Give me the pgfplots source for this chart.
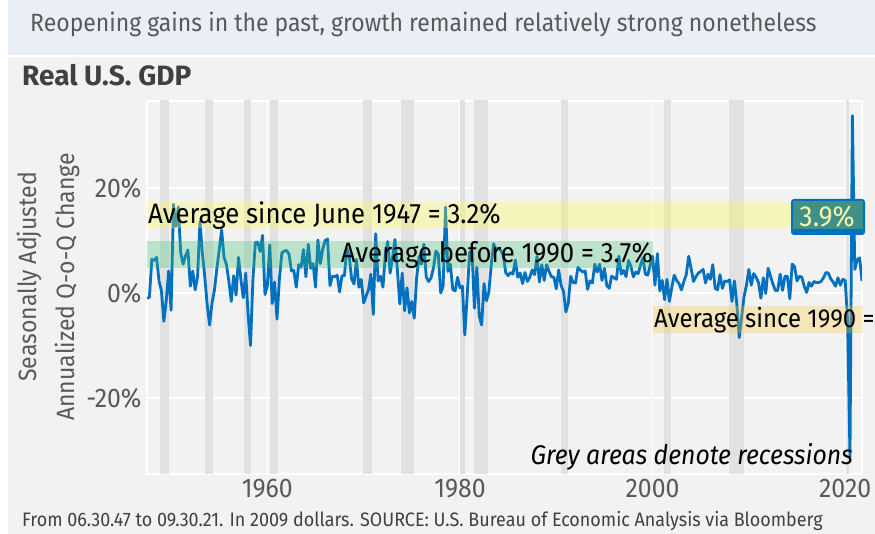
\documentclass[border=0pt]{standalone}
\usepackage{fontspec}
\setmainfont{Fira Sans}[FakeStretch=0.92]
\newfontfamily\widefira{Fira Sans}
\usepackage{pgfplots}
\pgfplotsset{compat=1.18}

\definecolor{panel}{HTML}{F2F2F2}
\definecolor{titlebg}{HTML}{E9EEF7}
\definecolor{recess}{HTML}{E1E1E1}
\definecolor{gdpblue}{HTML}{0070C0}
\definecolor{teal39}{HTML}{3E9088}
\definecolor{ticktext}{HTML}{595959}
\definecolor{darktext}{HTML}{404040}
\definecolor{bandyellow}{HTML}{FFFF3E}
\definecolor{bandgreen}{HTML}{41C073}
\definecolor{bandorange}{HTML}{FFC73E}
\definecolor{boxtext}{HTML}{F8F4A8}

\begin{document}
\begin{tikzpicture}[x=1pt,y=1pt]
\useasboundingbox (0,0) rectangle (875,534);
% frame
\fill[white] (0,0) rectangle (875,534);
\fill[titlebg] (8,479) rectangle (875,534);
\fill[panel] (8,0) rectangle (875,477);
\node[anchor=base west, text=ticktext, font=\fontsize{25}{29}\selectfont, inner sep=0] at (30,502)
  {Reopening gains in the past, growth remained relatively strong nonetheless};
\node[anchor=base west, text=darktext, font=\widefira\bfseries\fontsize{28}{32}\selectfont, inner sep=0] at (22,448)
  {Real U.S. GDP};
\node[anchor=base west, text=darktext, font=\fontsize{19.5}{23}\selectfont, inner sep=0] at (22,7)
  {From 06.30.47 to 09.30.21. In 2009 dollars. SOURCE: U.S. Bureau of Economic Analysis via Bloomberg};
\node[rotate=90, text=ticktext, font=\fontsize{25}{30}\selectfont, inner sep=0] at (29,257) {Seasonally Adjusted};
\node[rotate=90, text=ticktext, font=\fontsize{25}{30}\selectfont, inner sep=0] at (67,247) {Annualized Q-o-Q Change};

\begin{axis}[
    at={(147pt,60pt)}, anchor=south west,
    scale only axis, width=715pt, height=373pt,
    xmin=1947.5, xmax=2021.75, ymin=-34.5, ymax=36.6,
    axis background/.style={fill=panel},
    axis line style={white, line width=1.5pt},
    grid=major, grid style={white, line width=1.3pt},
    major tick length=0pt,
    xtick={1960,1980,2000,2020}, ytick={-20,0,20},
    /pgf/number format/1000 sep={},
    /pgf/number format/assume math mode=true,
    yticklabel={\pgfmathprintnumber{\tick}\%},
    ticklabel style={text=ticktext, font=\fontsize{27}{30}\selectfont},
    yticklabel style={xshift=-2pt},
    xticklabel style={yshift=-2pt},
]
% recessions
\addplot[fill=recess, draw=none] coordinates {(1948.9,-40)(1948.9,40)(1949.8,40)(1949.8,-40)};
\addplot[fill=recess, draw=none] coordinates {(1953.5,-40)(1953.5,40)(1954.4,40)(1954.4,-40)};
\addplot[fill=recess, draw=none] coordinates {(1957.6,-40)(1957.6,40)(1958.3,40)(1958.3,-40)};
\addplot[fill=recess, draw=none] coordinates {(1960.3,-40)(1960.3,40)(1961.1,40)(1961.1,-40)};
\addplot[fill=recess, draw=none] coordinates {(1969.9,-40)(1969.9,40)(1970.9,40)(1970.9,-40)};
\addplot[fill=recess, draw=none] coordinates {(1973.9,-40)(1973.9,40)(1975.2,40)(1975.2,-40)};
\addplot[fill=recess, draw=none] coordinates {(1980.0,-40)(1980.0,40)(1980.5,40)(1980.5,-40)};
\addplot[fill=recess, draw=none] coordinates {(1981.5,-40)(1981.5,40)(1982.9,40)(1982.9,-40)};
\addplot[fill=recess, draw=none] coordinates {(1990.5,-40)(1990.5,40)(1991.2,40)(1991.2,-40)};
\addplot[fill=recess, draw=none] coordinates {(2001.2,-40)(2001.2,40)(2001.9,40)(2001.9,-40)};
\addplot[fill=recess, draw=none] coordinates {(2007.9,-40)(2007.9,40)(2009.5,40)(2009.5,-40)};
\addplot[fill=recess, draw=none] coordinates {(2020.1,-40)(2020.1,40)(2020.4,40)(2020.4,-40)};
% real GDP growth, quarterly, annualized
\addplot[gdpblue, line width=2.8pt, line join=round] coordinates {
(1947.50,-1.0)(1947.75,-0.8)(1948.00,6.4)
(1948.25,6.2)(1948.50,6.8)(1948.75,2.3)(1949.00,0.4)
(1949.25,-5.4)(1949.50,-1.4)(1949.75,4.2)(1950.00,-3.3)
(1950.25,16.9)(1950.50,12.7)(1950.75,16.4)(1951.00,7.7)
(1951.25,5.5)(1951.50,7.1)(1951.75,8.2)(1952.00,1.3)
(1952.25,4.2)(1952.50,0.6)(1952.75,3.1)(1953.00,13.6)
(1953.25,7.6)(1953.50,3.1)(1953.75,-2.2)(1954.00,-6.1)
(1954.25,-1.9)(1954.50,0.5)(1954.75,4.6)(1955.00,8.2)
(1955.25,12.0)(1955.50,6.8)(1955.75,5.4)(1956.00,2.3)
(1956.25,-1.6)(1956.50,3.3)(1956.75,-0.4)(1957.00,6.8)
(1957.25,2.6)(1957.50,-0.9)(1957.75,3.8)(1958.00,-4.1)
(1958.25,-10.0)(1958.50,2.6)(1958.75,9.6)(1959.00,9.7)
(1959.25,7.9)(1959.50,11.0)(1959.75,-0.3)(1960.00,1.4)
(1960.25,9.2)(1960.50,-2.0)(1960.75,2.1)(1961.00,-5.0)
(1961.25,2.7)(1961.50,7.6)(1961.75,8.0)(1962.00,8.1)
(1962.25,7.4)(1962.50,4.2)(1962.75,4.3)(1963.00,1.1)
(1963.25,5.4)(1963.50,4.9)(1963.75,8.3)(1964.00,3.1)
(1964.25,9.3)(1964.50,4.7)(1964.75,5.6)(1965.00,1.1)
(1965.25,10.1)(1965.50,5.6)(1965.75,8.4)(1966.00,10.0)
(1966.25,10.3)(1966.50,1.4)(1966.75,3.2)(1967.00,3.1)
(1967.25,3.4)(1967.50,0.2)(1967.75,3.3)(1968.00,3.3)
(1968.25,8.5)(1968.50,7.0)(1968.75,2.7)(1969.00,1.7)
(1969.25,6.4)(1969.50,1.1)(1969.75,2.6)(1970.00,-1.9)
(1970.25,-0.6)(1970.50,0.6)(1970.75,3.6)(1971.00,-4.1)
(1971.25,11.3)(1971.50,2.3)(1971.75,3.2)(1972.00,1.1)
(1972.25,7.3)(1972.50,9.8)(1972.75,3.8)(1973.00,6.8)
(1973.25,10.2)(1973.50,4.4)(1973.75,-2.1)(1974.00,3.8)
(1974.25,-3.4)(1974.50,1.0)(1974.75,-3.8)(1975.00,-1.6)
(1975.25,-4.8)(1975.50,2.9)(1975.75,7.0)(1976.00,5.5)
(1976.25,9.3)(1976.50,3.0)(1976.75,2.2)(1977.00,2.9)
(1977.25,4.8)(1977.50,8.0)(1977.75,7.4)(1978.00,0.0)
(1978.25,1.3)(1978.50,16.4)(1978.75,4.1)(1979.00,5.5)
(1979.25,0.7)(1979.50,0.4)(1979.75,3.0)(1980.00,1.0)
(1980.25,1.3)(1980.50,-8.0)(1980.75,-0.5)(1981.00,7.7)
(1981.25,8.1)(1981.50,-2.9)(1981.75,4.9)(1982.00,-4.3)
(1982.25,-6.1)(1982.50,1.8)(1982.75,-1.5)(1983.00,0.2)
(1983.25,5.4)(1983.50,9.4)(1983.75,8.2)(1984.00,8.6)
(1984.25,8.1)(1984.50,7.1)(1984.75,3.9)(1985.00,3.3)
(1985.25,3.9)(1985.50,3.6)(1985.75,6.3)(1986.00,3.0)
(1986.25,3.8)(1986.50,1.8)(1986.75,3.9)(1987.00,2.2)
(1987.25,3.0)(1987.50,4.4)(1987.75,3.5)(1988.00,7.0)
(1988.25,2.1)(1988.50,5.4)(1988.75,2.4)(1989.00,5.4)
(1989.25,4.1)(1989.50,3.1)(1989.75,3.0)(1990.00,0.8)
(1990.25,4.4)(1990.50,1.5)(1990.75,0.3)(1991.00,-3.6)
(1991.25,-1.9)(1991.50,3.2)(1991.75,2.0)(1992.00,1.9)
(1992.25,4.9)(1992.50,4.4)(1992.75,4.0)(1993.00,4.2)
(1993.25,0.7)(1993.50,2.3)(1993.75,1.9)(1994.00,5.5)
(1994.25,4.0)(1994.50,5.5)(1994.75,2.4)(1995.00,4.7)
(1995.25,1.4)(1995.50,0.9)(1995.75,3.2)(1996.00,2.9)
(1996.25,2.6)(1996.50,7.0)(1996.75,3.6)(1997.00,4.3)
(1997.25,3.1)(1997.50,6.2)(1997.75,5.1)(1998.00,3.1)
(1998.25,4.0)(1998.50,3.7)(1998.75,5.3)(1999.00,6.7)
(1999.25,3.6)(1999.50,3.4)(1999.75,5.3)(2000.00,7.0)
(2000.25,1.5)(2000.50,7.5)(2000.75,0.4)(2001.00,2.4)
(2001.25,-1.3)(2001.50,2.6)(2001.75,-1.6)(2002.00,1.1)
(2002.25,3.4)(2002.50,2.4)(2002.75,1.8)(2003.00,0.6)
(2003.25,2.2)(2003.50,3.5)(2003.75,7.0)(2004.00,4.7)
(2004.25,2.2)(2004.50,3.1)(2004.75,3.8)(2005.00,4.1)
(2005.25,4.5)(2005.50,1.9)(2005.75,3.6)(2006.00,2.6)
(2006.25,5.4)(2006.50,0.9)(2006.75,0.6)(2007.00,3.5)
(2007.25,0.9)(2007.50,2.3)(2007.75,2.2)(2008.00,2.5)
(2008.25,-1.6)(2008.50,2.3)(2008.75,-2.1)(2009.00,-8.5)
(2009.25,-4.6)(2009.50,-0.7)(2009.75,1.5)(2010.00,4.5)
(2010.25,1.5)(2010.50,3.7)(2010.75,3.0)(2011.00,2.0)
(2011.25,-1.0)(2011.50,2.9)(2011.75,-0.1)(2012.00,4.7)
(2012.25,3.2)(2012.50,1.7)(2012.75,0.5)(2013.00,0.5)
(2013.25,3.6)(2013.50,0.5)(2013.75,3.2)(2014.00,3.2)
(2014.25,-1.1)(2014.50,5.5)(2014.75,5.0)(2015.00,2.3)
(2015.25,3.2)(2015.50,3.0)(2015.75,1.3)(2016.00,0.1)
(2016.25,2.0)(2016.50,1.3)(2016.75,2.2)(2017.00,2.0)
(2017.25,2.0)(2017.50,2.2)(2017.75,2.9)(2018.00,3.9)
(2018.25,3.8)(2018.50,2.7)(2018.75,2.1)(2019.00,1.3)
(2019.25,2.9)(2019.50,1.5)(2019.75,2.6)(2020.00,2.4)
(2020.25,-5.1)(2020.50,-31.2)(2020.75,33.8)(2021.00,4.5)
(2021.25,6.3)(2021.50,6.7)(2021.75,2.3)
};
\end{axis}

% average bands and labels
\fill[bandyellow, fill opacity=0.3] (147,306) rectangle (793,332);
\fill[bandgreen, fill opacity=0.3] (147,266) rectangle (653,293);
\fill[bandorange, fill opacity=0.3] (653,201) rectangle (863,228);
\node[anchor=base west, font=\fontsize{28}{32}\selectfont, inner sep=0] at (148,310) {Average since June 1947 = 3.2\%};
\node[anchor=base east, font=\fontsize{28}{32}\selectfont, inner sep=0] at (653,271) {Average before 1990 = 3.7\%};
\begin{scope}
\clip (147,60) rectangle (875,433);
\node[anchor=base west, font=\fontsize{26}{30}\selectfont, inner sep=0] at (654,206) {Average since 1990 = 2.4\%};
\end{scope}
\fill[gdpblue, rounded corners=3pt] (791,299) rectangle (865,335);
\fill[teal39] (793,305) rectangle (863,333);
\node[text=boxtext, font=\fontsize{29}{32}\selectfont, inner sep=0] at (827,317) {3.9\%};
\node[anchor=base east, font=\itshape\fontsize{27}{30}\selectfont, inner sep=0] at (853,69) {Grey areas denote recessions};
\end{tikzpicture}
\end{document}
